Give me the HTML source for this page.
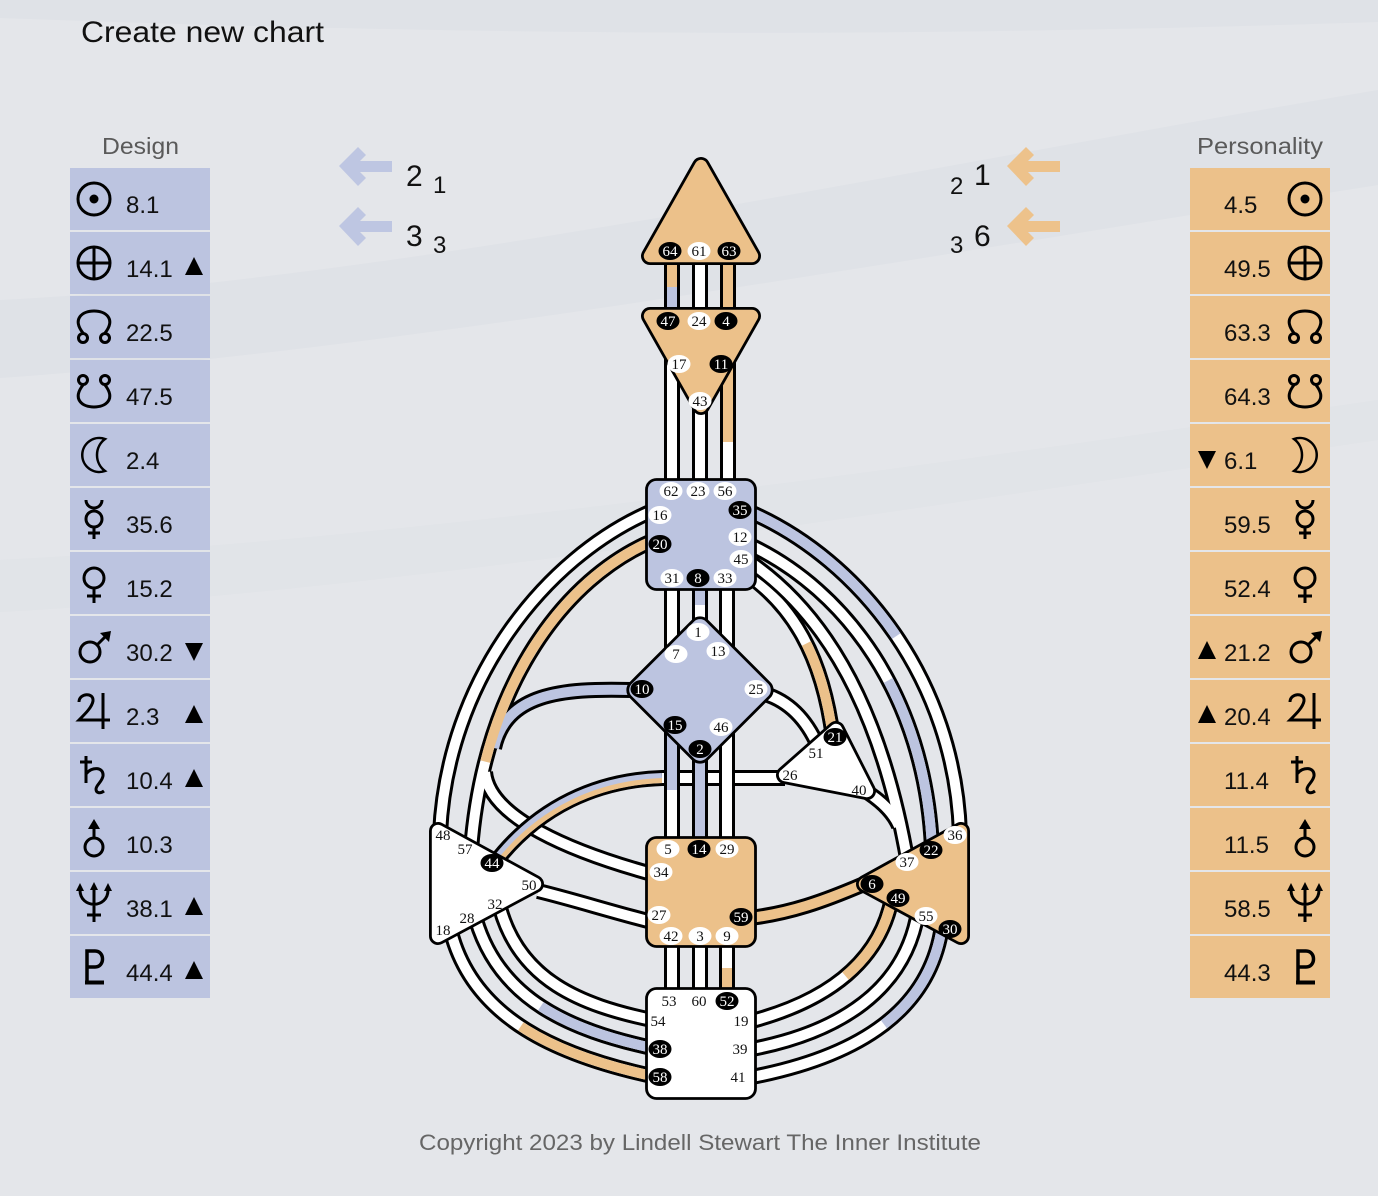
<!DOCTYPE html>
<html><head><meta charset="utf-8">
<style>
html,body{margin:0;padding:0;background:#E4E6EA;}
svg{display:block;}
.o{fill:none;stroke:#000;stroke-width:16}
.w{fill:none;stroke:#fff;stroke-width:10}
.bl{fill:none;stroke:#BCC4E0;stroke-width:10}
.or{fill:none;stroke:#ECC18A;stroke-width:10}
.kb{fill:#000}
.wb{fill:#fff}
.kt{fill:#fff;font-family:"Liberation Serif",serif;font-size:15px;text-anchor:middle}
.wt{fill:#111;font-family:"Liberation Serif",serif;font-size:15px;text-anchor:middle}
.val{font-family:"Liberation Sans",sans-serif;font-size:24px;fill:#111}
.sym{fill:none;stroke:#000;stroke-width:3}
</style></head><body>
<svg width="1378" height="1196" viewBox="0 0 1378 1196" xmlns="http://www.w3.org/2000/svg" font-family="'Liberation Sans', sans-serif">
<defs>
<g id="sun" class="sym"><circle r="16"/><circle r="4.5" fill="#000" stroke="none"/></g>
<g id="earth" class="sym"><circle r="16"/><path d="M-16 0H16M0 -16V16"/></g>
<g id="nn" class="sym"><path d="M-11 6 C-22 -8 -12 -16 0 -16 C12 -16 22 -8 11 6"/><circle cx="-11" cy="11" r="4.5"/><circle cx="11" cy="11" r="4.5"/></g>
<g id="sn" class="sym"><path d="M-11 -6 C-22 8 -12 16 0 16 C12 16 22 8 11 -6"/><circle cx="-11" cy="-11" r="4.5"/><circle cx="11" cy="-11" r="4.5"/></g>
<g id="moonL" class="sym" style="stroke-width:2.5"><path d="M11 -16 A17 17 0 1 0 11 16 A20 20 0 0 1 11 -16Z"/></g>
<g id="moonR" class="sym" style="stroke-width:2.5"><path d="M-11 -16 A17 17 0 1 1 -11 16 A20 20 0 0 0 -11 -16Z"/></g>
<g id="merc" class="sym"><circle cy="0" r="8"/><path d="M-8 -19 A8 8 0 0 0 8 -19 M0 8V20M-6 14H6"/></g>
<g id="venus" class="sym"><circle cy="-5" r="10"/><path d="M0 5V20M-7 13H7"/></g>
<g id="mars" class="sym"><circle cx="-4" cy="5" r="10"/><path d="M3 -2L12 -11"/><polygon points="17,-16 6,-14 15,-5" fill="#000" stroke="none"/></g>
<g id="jup" class="sym"><path d="M-15 -9 C-15 -18 0 -19 -1 -10 C-2 -4 -8 2 -15 9 H16 M9 -18 V18"/></g>
<g id="sat" class="sym"><path d="M-8 -19 V8 M-14 -13 H-2 M-8 -1 C-2 -9 10 -8 9 1 C8 7 2 10 2 14 C2 18 6 19 10 16"/></g>
<g id="ura" class="sym"><circle cy="8" r="9"/><path d="M0 -1V-12"/><polygon points="0,-20 -6,-10 6,-10" fill="#000" stroke="none"/></g>
<g id="nep" class="sym"><path d="M-14 -13 C-14 6 14 6 14 -13 M0 -15V19 M-7 12H7"/><polygon points="-14,-20 -18,-12 -10,-12" fill="#000" stroke="none"/><polygon points="14,-20 10,-12 18,-12" fill="#000" stroke="none"/><polygon points="0,-21 -4,-13 4,-13" fill="#000" stroke="none"/></g>
<g id="plu" class="sym"><path d="M-7 14V-16H1C11 -16 11 0 1 0H-7" style="stroke-width:3.5"/><path d="M-9 15.5H10" style="stroke-width:4"/></g>
<polygon id="arr" points="339,166 358,147 366,155 360,161 392,161 392,172 360,172 366,178 358,186"/>
</defs>

<!-- background -->
<rect width="1378" height="1196" fill="#E4E6EA"/>
<path d="M0 0H1378V22C1000 34 600 40 0 18Z" fill="#DCDFE4" opacity="0.6"/>
<path d="M0 300 C400 280 900 170 1378 90 L1378 185 C900 260 400 350 0 378 Z" fill="#DADEE3" opacity="0.55"/>
<path d="M0 560 C400 540 900 470 1378 400 L1378 440 C900 510 400 590 0 612 Z" fill="#DEE1E5" opacity="0.5"/>

<!-- title -->
<text x="81" y="42" font-size="30" fill="#111" textLength="243" lengthAdjust="spacingAndGlyphs">Create new chart</text>
<text x="102" y="154" font-size="23" fill="#5a5a5a" textLength="77" lengthAdjust="spacingAndGlyphs">Design</text>
<text x="1197" y="154" font-size="23" fill="#5a5a5a" textLength="126" lengthAdjust="spacingAndGlyphs">Personality</text>

<!-- arrows and numbers -->
<use href="#arr" fill="#BEC6E2"/>
<use href="#arr" fill="#BEC6E2" y="60"/>
<use href="#arr" fill="#EDC28B" x="668"/>
<use href="#arr" fill="#EDC28B" x="668" y="60"/>
<text x="406" y="186" font-size="30" fill="#111">2</text><text x="433" y="193" font-size="24" fill="#111">1</text>
<text x="406" y="246" font-size="30" fill="#111">3</text><text x="433" y="253" font-size="24" fill="#111">3</text>
<text x="950" y="194" font-size="24" fill="#111">2</text><text x="974" y="185" font-size="30" fill="#111">1</text>
<text x="950" y="253" font-size="24" fill="#111">3</text><text x="974" y="246" font-size="30" fill="#111">6</text>

<!-- design column -->
<g fill="#BCC4E0">
<rect x="70" y="168" width="140" height="62"/><rect x="70" y="232" width="140" height="62"/><rect x="70" y="296" width="140" height="62"/><rect x="70" y="360" width="140" height="62"/><rect x="70" y="424" width="140" height="62"/><rect x="70" y="488" width="140" height="62"/><rect x="70" y="552" width="140" height="62"/><rect x="70" y="616" width="140" height="62"/><rect x="70" y="680" width="140" height="62"/><rect x="70" y="744" width="140" height="62"/><rect x="70" y="808" width="140" height="62"/><rect x="70" y="872" width="140" height="62"/><rect x="70" y="936" width="140" height="62"/>
</g>
<g fill="#ECC18A">
<rect x="1190" y="168" width="140" height="62"/><rect x="1190" y="232" width="140" height="62"/><rect x="1190" y="296" width="140" height="62"/><rect x="1190" y="360" width="140" height="62"/><rect x="1190" y="424" width="140" height="62"/><rect x="1190" y="488" width="140" height="62"/><rect x="1190" y="552" width="140" height="62"/><rect x="1190" y="616" width="140" height="62"/><rect x="1190" y="680" width="140" height="62"/><rect x="1190" y="744" width="140" height="62"/><rect x="1190" y="808" width="140" height="62"/><rect x="1190" y="872" width="140" height="62"/><rect x="1190" y="936" width="140" height="62"/>
</g>

<use href="#sun" x="94" y="199"/><use href="#earth" x="94" y="263"/><use href="#nn" x="94" y="327"/><use href="#sn" x="94" y="391"/><use href="#moonL" x="94" y="455"/><use href="#merc" x="94" y="519"/><use href="#venus" x="94" y="583"/><use href="#mars" x="94" y="647"/><use href="#jup" x="94" y="711"/><use href="#sat" x="94" y="775"/><use href="#ura" x="94" y="839"/><use href="#nep" x="94" y="903"/><use href="#plu" x="94" y="967"/>

<use href="#sun" x="1305" y="199"/><use href="#earth" x="1305" y="263"/><use href="#nn" x="1305" y="327"/><use href="#sn" x="1305" y="391"/><use href="#moonR" x="1305" y="455"/><use href="#merc" x="1305" y="519"/><use href="#venus" x="1305" y="583"/><use href="#mars" x="1305" y="647"/><use href="#jup" x="1305" y="711"/><use href="#sat" x="1305" y="775"/><use href="#ura" x="1305" y="839"/><use href="#nep" x="1305" y="903"/><use href="#plu" x="1305" y="967"/>

<g class="val">
<text x="126" y="213">8.1</text><text x="126" y="277">14.1</text><text x="126" y="341">22.5</text><text x="126" y="405">47.5</text><text x="126" y="469">2.4</text><text x="126" y="533">35.6</text><text x="126" y="597">15.2</text><text x="126" y="661">30.2</text><text x="126" y="725">2.3</text><text x="126" y="789">10.4</text><text x="126" y="853">10.3</text><text x="126" y="917">38.1</text><text x="126" y="981">44.4</text>
<text x="1224" y="213">4.5</text><text x="1224" y="277">49.5</text><text x="1224" y="341">63.3</text><text x="1224" y="405">64.3</text><text x="1224" y="469">6.1</text><text x="1224" y="533">59.5</text><text x="1224" y="597">52.4</text><text x="1224" y="661">21.2</text><text x="1224" y="725">20.4</text><text x="1224" y="789">11.4</text><text x="1224" y="853">11.5</text><text x="1224" y="917">58.5</text><text x="1224" y="981">44.3</text>
</g>
<g fill="#000">
<polygon points="185,275 203,275 194,257"/>
<polygon points="185,643 203,643 194,661"/>
<polygon points="185,723 203,723 194,705"/>
<polygon points="185,787 203,787 194,769"/>
<polygon points="185,915 203,915 194,897"/>
<polygon points="185,979 203,979 194,961"/>
<polygon points="1198,451 1216,451 1207,469"/>
<polygon points="1198,659 1216,659 1207,641"/>
<polygon points="1198,723 1216,723 1207,705"/>
</g>

<!-- ===== CHANNELS ===== -->
<!-- head - ajna -->
<path class="o" d="M672 258V314M700 258V314M728 258V314"/>
<path class="or" d="M672 258V287"/><path class="bl" d="M672 287V314"/>
<path class="w" d="M700 258V314"/>
<path class="or" d="M728 258V314"/>
<!-- ajna - throat -->
<path class="o" d="M672 350V486M700 395V486M728 350V486"/>
<path class="w" d="M672 350V486M700 395V486M728 442V486"/>
<path class="or" d="M728 350V442"/>
<!-- throat - G -->
<path class="o" d="M672 584V660M700 584V625M727 584V660"/>
<path class="w" d="M672 584V660M700 605V625M727 584V660"/>
<path class="bl" d="M700 584V605"/>

<!-- 16-48 -->
<path class="o" d="M650 512 C545 558 447 680 440 834"/>
<path class="w" d="M650 512 C545 558 447 680 440 834"/>

<!-- integration -->
<path class="o" d="M650 542 C568 578 484 680 471 850"/>
<path class="o" d="M632 690 C560 688 506 694 494 748"/>
<path class="o" d="M485 772 C489 818 572 852 652 874"/>
<path class="w" d="M650 542 C568 578 484 680 471 850"/>
<path class="w" d="M485 772 C489 818 572 852 652 874"/>
<path class="bl" d="M632 690 C560 688 506 694 494 748"/>
<path class="or" d="M650 542 C568 578 484 680 471 850" pathLength="100" stroke-dasharray="76 200"/>

<!-- 27-50 -->
<path class="o" d="M538 891 C575 900 612 912 652 922"/>
<path class="w" d="M538 891 C575 900 612 912 652 922"/>

<!-- spleen - root -->
<path class="o" d="M500 908 C520 980 580 1005 652 1020"/>
<path class="w" d="M500 908 C520 980 580 1005 652 1020"/>
<path class="o" d="M476 920 C500 1000 570 1030 652 1048"/>
<path class="w" d="M476 920 C500 1000 570 1030 652 1048"/>
<path class="bl" d="M476 920 C500 1000 570 1030 652 1048" pathLength="100" stroke-dasharray="0 48 200"/>
<path class="o" d="M451 932 C474 1020 560 1056 652 1076"/>
<path class="w" d="M451 932 C474 1020 560 1056 652 1076"/>
<path class="or" d="M451 932 C474 1020 560 1056 652 1076" pathLength="100" stroke-dasharray="0 46 200"/>

<!-- 26-44 -->
<path class="o" d="M494 864 C538 806 598 780 662 778 L785 778"/>
<path class="bl" d="M494 864 C538 806 598 780 662 778"/>
<path class="or" style="stroke-width:5" transform="translate(1,2.5)" d="M494 864 C538 806 598 780 662 778"/>
<path class="w" d="M662 778 L785 778"/>

<!-- G - sacral -->
<path class="o" d="M672 728V842M700 755V842M727 728V842"/>
<path class="w" d="M672 790V842M727 728V842"/>
<path class="bl" d="M672 728V790M700 755V842"/>

<!-- 25-51 -->
<path class="o" d="M765 694 Q800 705 818 746"/>
<path class="w" d="M765 694 Q800 705 818 746"/>

<!-- 45-21 -->
<path class="o" d="M748 575 C790 605 822 652 833 738"/>
<path class="w" d="M748 575 C790 605 822 652 833 738"/>
<path class="or" d="M748 575 C790 605 822 652 833 738" pathLength="100" stroke-dasharray="0 48 200"/>

<!-- 35-36 -->
<path class="o" d="M750 512 C860 560 955 680 960 834"/>
<path class="w" d="M750 512 C860 560 955 680 960 834"/>
<path class="bl" d="M750 512 C860 560 955 680 960 834" pathLength="100" stroke-dasharray="48 200"/>
<!-- 12-22 -->
<path class="o" d="M750 545 C845 590 925 695 932 848"/>
<path class="w" d="M750 545 C845 590 925 695 932 848"/>
<path class="bl" d="M750 545 C845 590 925 695 932 848" pathLength="100" stroke-dasharray="0 53 200"/>
<!-- inner arc + 40-37 -->
<path class="o" d="M750 562 C820 610 880 700 908 864"/>
<path class="o" d="M864 790 C880 800 893 812 899 826"/>
<path class="w" d="M750 562 C820 610 880 700 908 864"/>
<path class="w" d="M864 790 C880 800 893 812 899 826"/>

<!-- 59-6 -->
<path class="o" d="M750 918 C790 913 822 902 864 884"/>
<path class="or" d="M750 918 C790 913 822 902 864 884"/>

<!-- SP - root -->
<path class="o" d="M892 898 C880 960 830 1000 752 1021"/>
<path class="w" d="M892 898 C880 960 830 1000 752 1021"/>
<path class="or" d="M892 898 C880 960 830 1000 752 1021" pathLength="100" stroke-dasharray="47 200"/>
<path class="o" d="M918 912 C905 990 840 1032 752 1049"/>
<path class="w" d="M918 912 C905 990 840 1032 752 1049"/>
<path class="o" d="M942 926 C930 1010 860 1056 752 1077"/>
<path class="w" d="M942 926 C930 1010 860 1056 752 1077"/>
<path class="bl" d="M942 926 C930 1010 860 1056 752 1077" pathLength="100" stroke-dasharray="45 200"/>

<!-- sacral - root -->
<path class="o" d="M672 942V992M700 942V992M727 942V992"/>
<path class="w" d="M672 942V992M700 942V992M727 942V968"/>
<path class="or" d="M727 968V992"/>

<!-- ===== CENTERS ===== -->
<polygon points="701,166 650,256 752,256" fill="#ECC18A" stroke="#000" stroke-width="18" stroke-linejoin="round"/>
<polygon points="701,166 650,256 752,256" fill="#ECC18A" stroke="#ECC18A" stroke-width="12.4" stroke-linejoin="round"/>
<polygon points="650,316 752,316 701,406" fill="#ECC18A" stroke="#000" stroke-width="18" stroke-linejoin="round"/>
<polygon points="650,316 752,316 701,406" fill="#ECC18A" stroke="#ECC18A" stroke-width="12.4" stroke-linejoin="round"/>
<rect x="646.5" y="479.5" width="109" height="110" rx="10" fill="#BCC4E0" stroke="#000" stroke-width="2.8"/>
<rect x="646" y="636" width="108" height="108" rx="10" transform="rotate(45 700 690)" fill="#BCC4E0" stroke="#000" stroke-width="2.8"/>
<polygon points="836,730 785,775 867,791" fill="#fff" stroke="#000" stroke-width="18" stroke-linejoin="round"/>
<polygon points="836,730 785,775 867,791" fill="#fff" stroke="#fff" stroke-width="12.4" stroke-linejoin="round"/>
<polygon points="438,831 438,936 535,884" fill="#fff" stroke="#000" stroke-width="18" stroke-linejoin="round"/>
<polygon points="438,831 438,936 535,884" fill="#fff" stroke="#fff" stroke-width="12.4" stroke-linejoin="round"/>
<polygon points="865,884 961,831 961,936" fill="#ECC18A" stroke="#000" stroke-width="18" stroke-linejoin="round"/>
<polygon points="865,884 961,831 961,936" fill="#ECC18A" stroke="#ECC18A" stroke-width="12.4" stroke-linejoin="round"/>
<rect x="646.5" y="837.5" width="109" height="109" rx="10" fill="#ECC18A" stroke="#000" stroke-width="2.8"/>
<rect x="646.5" y="988.5" width="109" height="110" rx="10" fill="#fff" stroke="#000" stroke-width="2.8"/>

<!-- ===== GATES ===== -->
<!-- head -->
<ellipse class="kb" cx="670" cy="251" rx="11.5" ry="9"/><text class="kt" x="670" y="256">64</text>
<ellipse class="wb" cx="699" cy="251" rx="11.5" ry="9"/><text class="wt" x="699" y="256">61</text>
<ellipse class="kb" cx="729" cy="251" rx="11.5" ry="9"/><text class="kt" x="729" y="256">63</text>
<!-- ajna -->
<ellipse class="kb" cx="668" cy="321" rx="11.5" ry="9"/><text class="kt" x="668" y="326">47</text>
<ellipse class="wb" cx="699" cy="321" rx="11.5" ry="9"/><text class="wt" x="699" y="326">24</text>
<ellipse class="kb" cx="726" cy="321" rx="11.5" ry="9"/><text class="kt" x="726" y="326">4</text>
<ellipse class="wb" cx="679" cy="364" rx="11.5" ry="9"/><text class="wt" x="679" y="369">17</text>
<ellipse class="kb" cx="721" cy="364" rx="11.5" ry="9"/><text class="kt" x="721" y="369">11</text>
<ellipse class="wb" cx="700" cy="401" rx="11.5" ry="9"/><text class="wt" x="700" y="406">43</text>
<!-- throat -->
<ellipse class="wb" cx="671" cy="491" rx="11.5" ry="9"/><text class="wt" x="671" y="496">62</text>
<ellipse class="wb" cx="698" cy="491" rx="11.5" ry="9"/><text class="wt" x="698" y="496">23</text>
<ellipse class="wb" cx="725" cy="491" rx="11.5" ry="9"/><text class="wt" x="725" y="496">56</text>
<ellipse class="wb" cx="660" cy="515" rx="11.5" ry="9"/><text class="wt" x="660" y="520">16</text>
<ellipse class="kb" cx="740" cy="510" rx="11.5" ry="9"/><text class="kt" x="740" y="515">35</text>
<ellipse class="kb" cx="660" cy="544" rx="11.5" ry="9"/><text class="kt" x="660" y="549">20</text>
<ellipse class="wb" cx="740" cy="537" rx="11.5" ry="9"/><text class="wt" x="740" y="542">12</text>
<ellipse class="wb" cx="741" cy="559" rx="11.5" ry="9"/><text class="wt" x="741" y="564">45</text>
<ellipse class="wb" cx="672" cy="578" rx="11.5" ry="9"/><text class="wt" x="672" y="583">31</text>
<ellipse class="kb" cx="698" cy="578" rx="11.5" ry="9"/><text class="kt" x="698" y="583">8</text>
<ellipse class="wb" cx="725" cy="578" rx="11.5" ry="9"/><text class="wt" x="725" y="583">33</text>
<!-- G -->
<ellipse class="wb" cx="698" cy="632" rx="11.5" ry="9"/><text class="wt" x="698" y="637">1</text>
<ellipse class="wb" cx="676" cy="654" rx="11.5" ry="9"/><text class="wt" x="676" y="659">7</text>
<ellipse class="wb" cx="718" cy="651" rx="11.5" ry="9"/><text class="wt" x="718" y="656">13</text>
<ellipse class="kb" cx="642" cy="689" rx="11.5" ry="9"/><text class="kt" x="642" y="694">10</text>
<ellipse class="wb" cx="756" cy="689" rx="11.5" ry="9"/><text class="wt" x="756" y="694">25</text>
<ellipse class="kb" cx="675" cy="725" rx="11.5" ry="9"/><text class="kt" x="675" y="730">15</text>
<ellipse class="wb" cx="721" cy="727" rx="11.5" ry="9"/><text class="wt" x="721" y="732">46</text>
<ellipse class="kb" cx="700" cy="749" rx="11.5" ry="9"/><text class="kt" x="700" y="754">2</text>
<!-- ego -->
<ellipse class="kb" cx="835" cy="737" rx="11.5" ry="9"/><text class="kt" x="835" y="742">21</text>
<text class="wt" x="816" y="758">51</text>
<text class="wt" x="790" y="780">26</text>
<text class="wt" x="859" y="795">40</text>
<!-- spleen -->
<text class="wt" x="443" y="840">48</text>
<text class="wt" x="465" y="854">57</text>
<ellipse class="kb" cx="492" cy="863" rx="11.5" ry="9"/><text class="kt" x="492" y="868">44</text>
<text class="wt" x="529" y="890">50</text>
<text class="wt" x="495" y="909">32</text>
<text class="wt" x="467" y="923">28</text>
<text class="wt" x="443" y="935">18</text>
<!-- solar plexus -->
<ellipse class="wb" cx="955" cy="835" rx="11.5" ry="9"/><text class="wt" x="955" y="840">36</text>
<ellipse class="kb" cx="931" cy="850" rx="11.5" ry="9"/><text class="kt" x="931" y="855">22</text>
<ellipse class="wb" cx="907" cy="862" rx="11.5" ry="9"/><text class="wt" x="907" y="867">37</text>
<ellipse class="kb" cx="872" cy="884" rx="11.5" ry="9"/><text class="kt" x="872" y="889">6</text>
<ellipse class="kb" cx="898" cy="898" rx="11.5" ry="9"/><text class="kt" x="898" y="903">49</text>
<ellipse class="wb" cx="926" cy="916" rx="11.5" ry="9"/><text class="wt" x="926" y="921">55</text>
<ellipse class="kb" cx="950" cy="929" rx="11.5" ry="9"/><text class="kt" x="950" y="934">30</text>
<!-- sacral -->
<ellipse class="wb" cx="668" cy="849" rx="11.5" ry="9"/><text class="wt" x="668" y="854">5</text>
<ellipse class="kb" cx="699" cy="849" rx="11.5" ry="9"/><text class="kt" x="699" y="854">14</text>
<ellipse class="wb" cx="727" cy="849" rx="11.5" ry="9"/><text class="wt" x="727" y="854">29</text>
<ellipse class="wb" cx="661" cy="872" rx="11.5" ry="9"/><text class="wt" x="661" y="877">34</text>
<ellipse class="wb" cx="659" cy="915" rx="11.5" ry="9"/><text class="wt" x="659" y="920">27</text>
<ellipse class="kb" cx="741" cy="917" rx="11.5" ry="9"/><text class="kt" x="741" y="922">59</text>
<ellipse class="wb" cx="671" cy="936" rx="11.5" ry="9"/><text class="wt" x="671" y="941">42</text>
<ellipse class="wb" cx="700" cy="936" rx="11.5" ry="9"/><text class="wt" x="700" y="941">3</text>
<ellipse class="wb" cx="727" cy="936" rx="11.5" ry="9"/><text class="wt" x="727" y="941">9</text>
<!-- root -->
<text class="wt" x="669" y="1006">53</text>
<text class="wt" x="699" y="1006">60</text>
<ellipse class="kb" cx="727" cy="1001" rx="11.5" ry="9"/><text class="kt" x="727" y="1006">52</text>
<text class="wt" x="658" y="1026">54</text>
<text class="wt" x="741" y="1026">19</text>
<ellipse class="kb" cx="660" cy="1049" rx="11.5" ry="9"/><text class="kt" x="660" y="1054">38</text>
<text class="wt" x="740" y="1054">39</text>
<ellipse class="kb" cx="660" cy="1077" rx="11.5" ry="9"/><text class="kt" x="660" y="1082">58</text>
<text class="wt" x="738" y="1082">41</text>

<!-- footer -->
<text x="419" y="1150" font-size="22" fill="#666" textLength="562" lengthAdjust="spacingAndGlyphs">Copyright 2023 by Lindell Stewart The Inner Institute</text>
</svg>
</body></html>
